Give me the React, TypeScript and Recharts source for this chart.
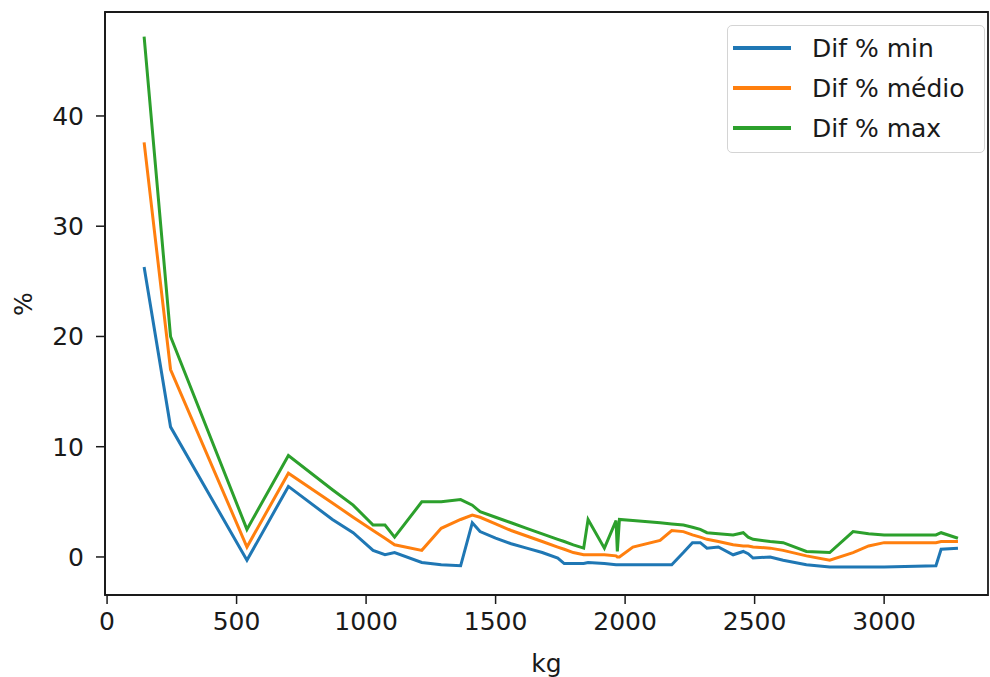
import { LineChart, Line, XAxis, YAxis, ReferenceArea } from "recharts";

// mass (kg) at each sampled point
const kg = [
  143, 245, 540, 700, 870, 950, 1027, 1073, 1110, 1215, 1290, 1365, 1410, 1440,
  1500, 1560, 1620, 1680, 1740, 1765, 1800, 1840, 1857, 1920, 1965, 1970, 1978,
  2030, 2135, 2180, 2225, 2260, 2290, 2316, 2360, 2417, 2456, 2475, 2494, 2560,
  2610, 2700, 2790, 2880, 2940, 3000, 3200, 3220, 3285,
];

const difMin = [
  26.3, 11.8, -0.3, 6.4, 3.4, 2.2, 0.6, 0.2, 0.4, -0.5, -0.7, -0.8, 3.1, 2.3,
  1.7, 1.2, 0.8, 0.4, -0.1, -0.6, -0.6, -0.6, -0.5, -0.6, -0.7, -0.7, -0.7,
  -0.7, -0.7, -0.7, 0.4, 1.3, 1.3, 0.8, 0.9, 0.2, 0.5, 0.3, -0.1, 0.0,
  -0.3, -0.7, -0.9, -0.9, -0.9, -0.9, -0.8, 0.7, 0.8,
];

const difMedio = [
  37.6, 17.0, 0.9, 7.6, 4.9, 3.6, 2.4, 1.7, 1.1, 0.6, 2.6, 3.4, 3.8, 3.6,
  3.0, 2.4, 1.9, 1.4, 0.9, 0.7, 0.4, 0.2, 0.2, 0.2, 0.1, 0.0, 0.0,
  0.9, 1.5, 2.4, 2.3, 2.0, 1.8, 1.6, 1.4, 1.1, 1.0, 1.0, 0.9, 0.8,
  0.6, 0.1, -0.3, 0.4, 1.0, 1.3, 1.3, 1.4, 1.4,
];

const difMax = [
  47.2, 20.0, 2.5, 9.2, 6.1, 4.7, 2.9, 2.9, 1.8, 5.0, 5.0, 5.2, 4.7, 4.1,
  3.6, 3.1, 2.6, 2.1, 1.6, 1.4, 1.1, 0.8, 3.4, 0.8, 3.3, 0.5, 3.4,
  3.3, 3.1, 3.0, 2.9, 2.7, 2.5, 2.2, 2.1, 2.0, 2.2, 1.8, 1.6, 1.4,
  1.3, 0.5, 0.4, 2.3, 2.1, 2.0, 2.0, 2.2, 1.7,
];

const seriesNames = ["Dif % min", "Dif % médio", "Dif % max"];
const seriesKeys = ["min", "medio", "max"];
const colors = ["#1f77b4", "#ff7f0e", "#2ca02c"];

const xTicks = [0, 500, 1000, 1500, 2000, 2500, 3000];
const yTicks = [0, 10, 20, 30, 40];

const data = kg.map((k, i) => ({
  kg: k,
  min: difMin[i],
  medio: difMedio[i],
  max: difMax[i],
}));

const font = "'DejaVu Sans', sans-serif";
const ink = "#1a1a1a";
const xDomain = [-8, 3401];
const yDomain = [-3.45, 49.43];

export default function App() {
  return (
    <div
      style={{
        position: "absolute",
        left: 0,
        top: 0,
        width: 990,
        height: 677,
        background: "#fff",
        fontFamily: font,
      }}
    >
      <LineChart
        width={990}
        height={677}
        data={data}
        margin={{ top: 12, right: 2, bottom: 0, left: 0 }}
      >
        <XAxis
          dataKey="kg"
          type="number"
          domain={xDomain}
          ticks={xTicks}
          allowDataOverflow
          height={82}
          tickSize={9}
          tickMargin={8}
          axisLine={{ stroke: ink, strokeWidth: 1.8 }}
          tickLine={{ stroke: ink, strokeWidth: 1.5 }}
          tick={{ fontSize: 25, fill: ink, fontFamily: font }}
          label={{
            value: "kg",
            position: "insideBottom",
            offset: 5,
            fontSize: 25,
            fill: ink,
            fontFamily: font,
          }}
        />
        <YAxis
          type="number"
          domain={yDomain}
          ticks={yTicks}
          allowDataOverflow
          width={105}
          tickSize={9}
          tickMargin={12}
          axisLine={{ stroke: ink, strokeWidth: 1.8 }}
          tickLine={{ stroke: ink, strokeWidth: 1.5 }}
          tick={{ fontSize: 25, fill: ink, fontFamily: font }}
          label={{
            content: () => (
              <text
                x={23}
                y={304}
                transform="rotate(-90 23 304)"
                textAnchor="middle"
                dominantBaseline="central"
                fontSize={25}
                fill={ink}
                fontFamily={font}
              >
                %
              </text>
            ),
          }}
        />
        {/* frame: top and right spines */}
        <ReferenceArea
          x1={xDomain[0]}
          x2={xDomain[1]}
          y1={yDomain[0]}
          y2={yDomain[1]}
          fill="none"
          fillOpacity={0}
          stroke={ink}
          strokeWidth={1.8}
          ifOverflow="visible"
        />
        {seriesKeys.map((key, i) => (
          <Line
            key={key}
            type="linear"
            dataKey={key}
            name={seriesNames[i]}
            stroke={colors[i]}
            strokeWidth={3}
            dot={false}
            isAnimationActive={false}
          />
        ))}
      </LineChart>

      <div
        style={{
          position: "absolute",
          left: 727,
          top: 25,
          width: 258,
          height: 128,
          boxSizing: "border-box",
          border: "1.5px solid #d4d4d4",
          borderRadius: 5,
          background: "rgba(255,255,255,0.8)",
          paddingTop: 2,
          paddingLeft: 5,
        }}
      >
        {seriesNames.map((name, i) => (
          <div
            key={name}
            style={{
              display: "flex",
              alignItems: "center",
              height: 40,
              fontSize: 25,
              color: ink,
              whiteSpace: "nowrap",
            }}
          >
            <span
              style={{
                display: "inline-block",
                width: 58,
                height: 3.5,
                background: colors[i],
                marginRight: 21,
              }}
            />
            {name}
          </div>
        ))}
      </div>
    </div>
  );
}
